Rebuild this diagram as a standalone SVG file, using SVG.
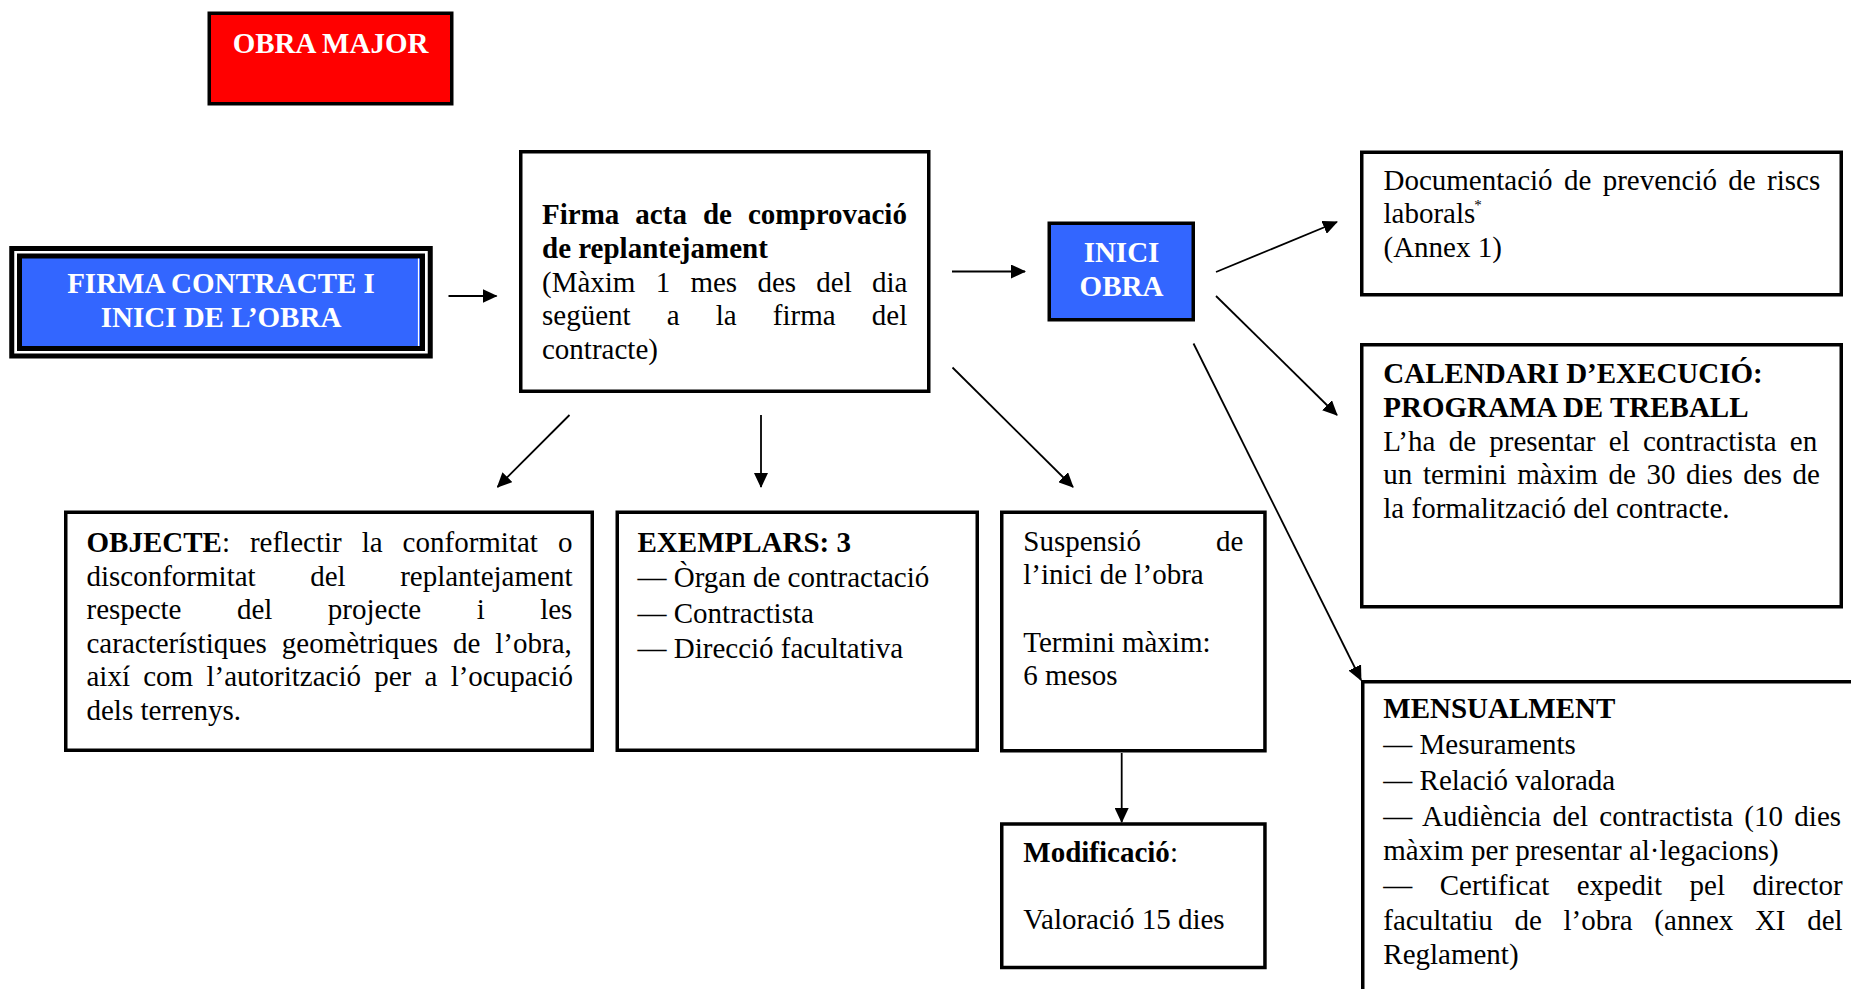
<svg xmlns="http://www.w3.org/2000/svg" width="1851" height="989" viewBox="0 0 1851 989">
<style>
.t{font-family:"Liberation Serif","Times New Roman",serif;font-size:29px;fill:#000}
.b{font-weight:bold}
.w{fill:#fff}
.box{fill:#fff;stroke:#000;stroke-width:3.5}
.blue{fill:#3366FF;stroke:#000;stroke-width:3.5}
.c{stroke:#000;stroke-width:1.8;fill:none;marker-end:url(#ah)}
</style>
<defs>
<marker id="ah" markerUnits="userSpaceOnUse" markerWidth="15" markerHeight="14" refX="14" refY="7" orient="auto">
<path d="M0,0 L15,7 L0,14 Z" fill="#000"/>
</marker>
</defs>
<rect width="1851" height="989" fill="#fff"/>

<g id="obra-major">
<rect x="209.25" y="13.25" width="242.5" height="90.5" fill="#FF0000" stroke="#000" stroke-width="3.5"/>
<text class="t b w" x="330.5" y="53" text-anchor="middle">OBRA MAJOR</text>
</g>

<g id="firma-contracte">
<rect x="11.75" y="248.5" width="418.5" height="107.5" fill="#fff" stroke="#000" stroke-width="5"/>
<rect x="19.5" y="256" width="403" height="92.5" fill="#3366FF" stroke="#000" stroke-width="5"/>
<line x1="418.5" y1="258.5" x2="418.5" y2="346" stroke="#fff" stroke-width="1.2"/>
<text class="t b w" x="221" y="293.3" text-anchor="middle">FIRMA CONTRACTE I</text>
<text class="t b w" x="221" y="327.3" text-anchor="middle">INICI DE L’OBRA</text>
</g>

<g id="firma-acta">
<rect class="box" x="520.75" y="151.75" width="408" height="239.5"/>
<text class="t b" x="542" y="223.5" word-spacing="8.8">Firma acta de comprovació</text>
<text class="t b" x="542" y="258">de replantejament</text>
<text class="t" x="542" y="291.8" word-spacing="13">(Màxim 1 mes des del dia</text>
<text class="t" x="542" y="325.2" word-spacing="28.9">següent a la firma del</text>
<text class="t" x="542" y="358.7">contracte)</text>
</g>

<g id="inici-obra">
<rect class="blue" x="1049.25" y="223.25" width="144" height="96.5"/>
<text class="t b w" x="1121.5" y="262" text-anchor="middle">INICI</text>
<text class="t b w" x="1121.5" y="296" text-anchor="middle">OBRA</text>
</g>

<g id="documentacio">
<rect class="box" x="1361.75" y="152.25" width="479.5" height="142.5"/>
<text class="t" x="1383.5" y="189.5" word-spacing="4.1">Documentació de prevenció de riscs</text>
<text class="t" x="1383.5" y="223">laborals<tspan font-size="15px" dx="-1" dy="-13">*</tspan></text>
<text class="t" x="1383.5" y="256.5">(Annex 1)</text>
</g>

<g id="calendari">
<rect class="box" x="1361.75" y="344.75" width="479.5" height="262"/>
<text class="t b" x="1383.3" y="383">CALENDARI D’EXECUCIÓ:</text>
<text class="t b" x="1383.3" y="417">PROGRAMA DE TREBALL</text>
<text class="t" x="1383.3" y="450.5" word-spacing="6">L’ha de presentar el contractista en</text>
<text class="t" x="1383.3" y="484" word-spacing="3.36">un termini màxim de 30 dies des de</text>
<text class="t" x="1383.3" y="517.7">la formalització del contracte.</text>
</g>

<g id="mensualment">
<rect class="box" x="1362.75" y="681.75" width="600" height="400"/>
<text class="t b" x="1383.3" y="718.3">MENSUALMENT</text>
<text class="t" x="1383.3" y="753.5">— Mesuraments</text>
<text class="t" x="1383.3" y="789.5">— Relació valorada</text>
<text class="t" x="1383.3" y="826" word-spacing="4.1">— Audiència del contractista (10 dies</text>
<text class="t" x="1383.3" y="860">màxim per presentar al·legacions)</text>
<text class="t" x="1383.3" y="895" word-spacing="20.2">— Certificat expedit pel director</text>
<text class="t" x="1383.3" y="929.5" word-spacing="14.4">facultatiu de l’obra (annex XI del</text>
<text class="t" x="1383.3" y="963.5">Reglament)</text>
</g>

<g id="objecte">
<rect class="box" x="65.75" y="512.25" width="526.5" height="238"/>
<text class="t" x="86.5" y="552" word-spacing="12.75"><tspan class="b">OBJECTE</tspan>: reflectir la conformitat o</text>
<text class="t" x="86.5" y="585.6" word-spacing="47.3">disconformitat del replantejament</text>
<text class="t" x="86.5" y="619.2" word-spacing="48.2">respecte del projecte i les</text>
<text class="t" x="86.5" y="652.8" word-spacing="7.7">característiques geomètriques de l’obra,</text>
<text class="t" x="86.5" y="686.4" word-spacing="6">així com l’autorització per a l’ocupació</text>
<text class="t" x="86.5" y="720">dels terrenys.</text>
</g>

<g id="exemplars">
<rect class="box" x="617.25" y="512.25" width="360" height="238"/>
<text class="t b" x="637.5" y="551.7">EXEMPLARS: 3</text>
<text class="t" x="637.5" y="587.3">— Òrgan de contractació</text>
<text class="t" x="637.5" y="622.7">— Contractista</text>
<text class="t" x="637.5" y="658.3">— Direcció facultativa</text>
</g>

<g id="suspensio">
<rect class="box" x="1001.75" y="512.25" width="263.2" height="238.5"/>
<text class="t" x="1023.3" y="550.7">Suspensió</text>
<text class="t" x="1243.3" y="550.7" text-anchor="end">de</text>
<text class="t" x="1023.3" y="584">l’inici de l’obra</text>
<text class="t" x="1023.3" y="651.7">Termini màxim:</text>
<text class="t" x="1023.3" y="685">6 mesos</text>
</g>

<g id="modificacio">
<rect class="box" x="1001.75" y="824" width="263.2" height="143.5"/>
<text class="t" x="1023.3" y="862.3"><tspan class="b">Modificació</tspan>:</text>
<text class="t" x="1023.3" y="929">Valoració 15 dies</text>
</g>

<g id="connectors">
<line class="c" x1="448.5" y1="296" x2="496.5" y2="296"/>
<line class="c" x1="952" y1="271.5" x2="1025" y2="271.5"/>
<line class="c" x1="569.5" y1="415" x2="497.5" y2="487"/>
<line class="c" x1="761" y1="415" x2="761" y2="487"/>
<line class="c" x1="952.5" y1="367.5" x2="1073" y2="487"/>
<line class="c" x1="1216" y1="272" x2="1337" y2="222"/>
<line class="c" x1="1216" y1="296" x2="1337" y2="415"/>
<line class="c" x1="1193.5" y1="343.5" x2="1361" y2="680"/>
<line class="c" x1="1121.7" y1="753" x2="1121.7" y2="822"/>
</g>
</svg>
